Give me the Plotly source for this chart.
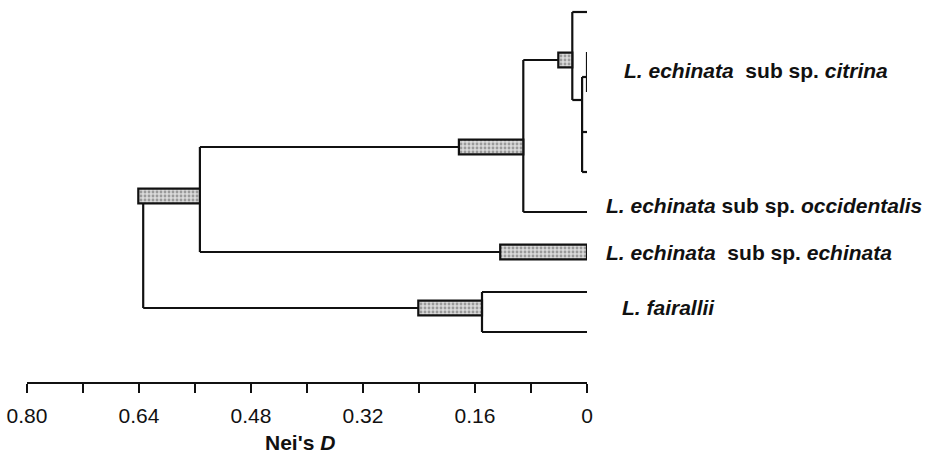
import plotly.graph_objects as go

# ---- data ----
tick_vals = [0.80, 0.72, 0.64, 0.56, 0.48, 0.40, 0.32, 0.24, 0.16, 0.08, 0.0]
tick_text = ["0.80", "", "0.64", "", "0.48", "", "0.32", "", "0.16", "", "0"]

# leaves (row positions top->bottom, distance = 0)
leaf_names = ["citrina 1", "citrina 2", "citrina 3", "citrina 4", "citrina 5",
              "occidentalis", "echinata", "fairallii 1", "fairallii 2"]
leaf_y = [0, 1, 2, 3, 4, 5, 6, 7, 8]
leaf_dist = [0, 0, 0, 0, 0, 0, 0, 0, 0]

# internal nodes: Nei's D height and vertical position of the node's stem
node_names = ["root", "N2", "N3", "N4", "N5", "N6", "N7"]
node_dist = [0.634, 0.553, 0.091, 0.021, 0.007, 0.0, 0.150]
node_y = [6.0, 4.6, 3.375, 1.2, 2.2, 1.625, 7.4]

# tree topology (parent -> children)
children = {
    "root": ["N2", "N7"],
    "N2": ["N3", "echinata"],
    "N3": ["N4", "occidentalis"],
    "N4": ["citrina 1", "N5"],
    "N5": ["N6", "citrina 4", "citrina 5"],
    "N6": ["citrina 2", "citrina 3"],
    "N7": ["fairallii 1", "fairallii 2"],
}

# standard-error bars
bar_start = [0.553, 0.091, 0.021, 0.0, 0.150]
bar_end = [0.641, 0.183, 0.041, 0.124, 0.241]
bar_y = [4.6, 3.375, 1.2, 6, 7.4]

# labels
label_text = [
    "<b><i>L. echinata</i> \u00a0sub sp. <i>citrina</i></b>",
    "<b><i>L. echinata</i> sub sp. <i>occidentalis</i></b>",
    "<b><i>L. echinata</i> \u00a0sub sp. <i>echinata</i></b>",
    "<b><i>L. fairallii</i></b>",
]
label_x = [1.0625, 1.031, 1.031, 1.059]   # paper fraction of plot width
label_y = [1.45, 4.83, 6.0, 7.375]

# ---- build ----
pos = {}
for n, d, y in zip(leaf_names, leaf_dist, leaf_y):
    pos[n] = (d, y)
for n, d, y in zip(node_names, node_dist, node_y):
    pos[n] = (d, y)

xs, ys = [], []
for parent, kids in children.items():
    pd_, py_ = pos[parent]
    kid_ys = [pos[k][1] for k in kids]
    xs += [pd_, pd_, None]
    ys += [min(kid_ys), max(kid_ys), None]
    for k in kids:
        kd, ky = pos[k]
        xs += [pd_, kd, None]
        ys += [ky, ky, None]

fig = go.Figure()
fig.add_trace(go.Scatter(x=xs, y=ys, mode="lines",
                         line=dict(color="#111111", width=2.2),
                         hoverinfo="skip", showlegend=False,
                         xaxis="x", yaxis="y"))
fig.add_trace(go.Bar(
    y=bar_y, base=bar_start,
    x=[e - s for s, e in zip(bar_start, bar_end)],
    orientation="h", width=0.37,
    marker=dict(color="#c8c8c8",
                line=dict(color="#111111", width=2.2),
                pattern=dict(shape=".", fgcolor="#5a5a5a", bgcolor="#dadada",
                             size=4, solidity=0.4, fillmode="overlay")),
    showlegend=False, hoverinfo="skip",
    xaxis="x2", yaxis="y2"))

xrange = [0.80, 0.0]
yrange = [9.25, -0.25]

annotations = []
for t, x, y in zip(label_text, label_x, label_y):
    annotations.append(dict(text=t, x=x, y=y, xref="paper", yref="y",
                            xanchor="left", yanchor="middle", showarrow=False,
                            font=dict(family="Liberation Sans", size=21, color="#111111")))
annotations.append(dict(text="<b>Nei's <i>D</i></b>", x=0.41, y=-0.1605,
                        xref="x", yref="paper", xanchor="center", yanchor="middle",
                        showarrow=False,
                        font=dict(family="Liberation Sans", size=21, color="#111111")))

fig.update_layout(
    width=931, height=457,
    margin=dict(l=27, r=344, t=2, b=75),
    paper_bgcolor="white", plot_bgcolor="white",
    xaxis=dict(range=xrange, tickvals=tick_vals, ticktext=tick_text,
               showline=True, linecolor="#111111", linewidth=2,
               ticks="outside", ticklen=9, tickwidth=2, tickcolor="#111111",
               ticklabelstandoff=5,
               showgrid=False, zeroline=False,
               tickfont=dict(family="Liberation Sans", size=21, color="#111111")),
    yaxis=dict(range=yrange, visible=False, showgrid=False, zeroline=False),
    xaxis2=dict(range=xrange, overlaying="x", visible=False, showgrid=False, zeroline=False),
    yaxis2=dict(range=yrange, overlaying="y", visible=False, showgrid=False, zeroline=False),
    annotations=annotations,
    barmode="overlay",
)

fig.write_html("out.html")
